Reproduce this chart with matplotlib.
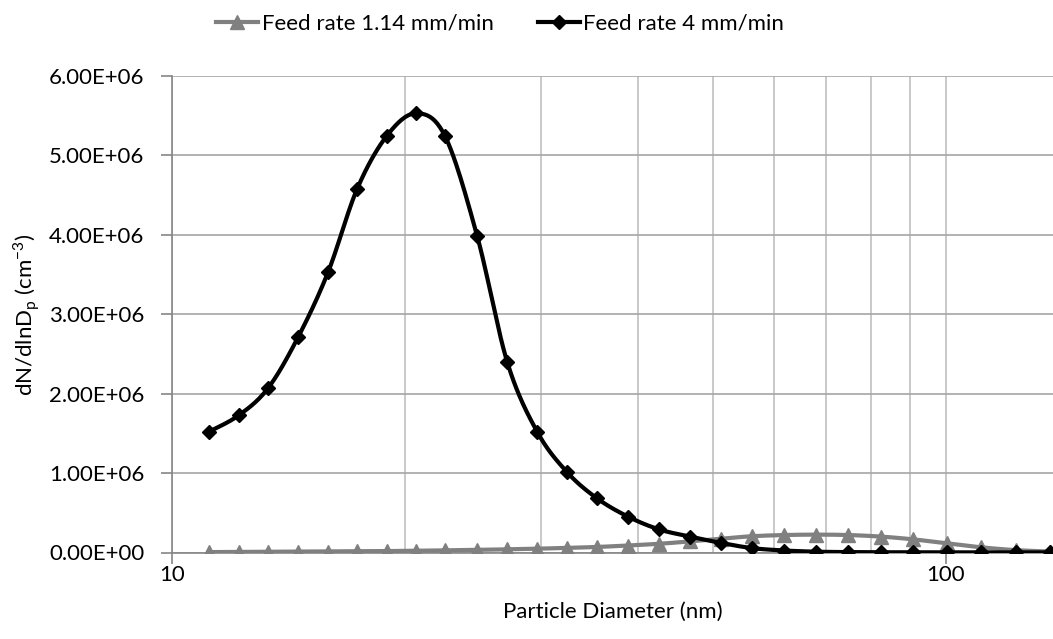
import numpy as np
import matplotlib.pyplot as plt
from matplotlib.ticker import FuncFormatter, LogLocator, NullFormatter

plt.rcParams['font.family'] = ['Lato', 'DejaVu Sans']

# SMPS channel midpoints (nm)
diameter = [11.15, 12.20, 13.30, 14.54, 15.90, 17.34, 18.95, 20.67, 22.53,
            24.79, 27.10, 29.63, 32.40, 35.43, 38.86, 42.62, 46.73, 51.26,
            56.22, 61.84, 68.03, 74.82, 82.56, 90.83, 100.5, 111.2, 123.1, 136.2]

# dN/dlnDp (cm^-3)
feed_114 = [0.005, 0.007, 0.008, 0.010, 0.012, 0.015, 0.018, 0.022, 0.027,
            0.033, 0.040, 0.048, 0.058, 0.070, 0.088, 0.110, 0.140, 0.175,
            0.205, 0.220, 0.225, 0.220, 0.200, 0.165, 0.115, 0.065, 0.030, 0.012]
feed_4 = [1.52, 1.73, 2.07, 2.71, 3.53, 4.58, 5.25, 5.53, 5.24, 3.98, 2.40,
          1.52, 1.01, 0.68, 0.45, 0.29, 0.20, 0.12, 0.055, 0.025, 0.010,
          0.005, 0.003, 0.002, 0.002, 0.001, 0.001, 0.001]
feed_114 = np.array(feed_114) * 1e6
feed_4 = np.array(feed_4) * 1e6

labels = ["Feed rate 1.14 mm/min", "Feed rate 4 mm/min"]

FS = 16


def smooth(x, y, n=24):
    """Bezier smoothing through the points (in log-x space), like a spreadsheet 'smoothed line'."""
    u = np.log10(np.asarray(x, float))
    v = np.asarray(y, float)
    P = np.column_stack([u, v])
    out = [P[0]]
    t = np.linspace(0, 1, n)[1:, None]
    for i in range(len(P) - 1):
        p0 = P[max(i - 1, 0)]
        p1, p2 = P[i], P[i + 1]
        p3 = P[min(i + 2, len(P) - 1)]
        c1 = p1 + (p2 - p0) / 6
        c2 = p2 - (p3 - p1) / 6
        seg = ((1 - t) ** 3) * p1 + 3 * ((1 - t) ** 2) * t * c1 \
            + 3 * (1 - t) * t ** 2 * c2 + t ** 3 * p2
        out.extend(seg)
    out = np.array(out)
    return 10 ** out[:, 0], out[:, 1]


fig = plt.figure(figsize=(10.53, 6.39), dpi=100)
ax = fig.add_axes([172.3 / 1053, 86.5 / 639, 1 - 172.3 / 1053, 476.5 / 639])

gray = "#808080"
sx, sy = smooth(diameter, feed_114)
ax.plot(sx, sy, color=gray, lw=3, zorder=3)
ax.plot(diameter, feed_114, ls="none", marker="^", ms=10.5, color=gray,
        zorder=3)
sx, sy = smooth(diameter, feed_4)
ax.plot(sx, sy, color="black", lw=3, zorder=4)
ax.plot(diameter, feed_4, ls="none", marker="D", ms=7.2, color="black",
        zorder=4)

# legend proxies (line with marker in the middle)
h1, = ax.plot([], [], color=gray, lw=3, marker="^", ms=10.5)
h2, = ax.plot([], [], color="black", lw=3, marker="D", ms=7.2)
fig.legend([h1, h2], labels, loc="upper center", bbox_to_anchor=(0.475, 1.0),
           ncol=2, frameon=False, fontsize=FS, handlelength=1.9,
           handletextpad=0.15, columnspacing=2.0, numpoints=1,
           borderaxespad=0.2)

ax.set_xscale("log")
ax.set_xlim(10, 137.6)
ax.set_ylim(0, 6e6)
ax.set_yticks(np.arange(0, 6.01e6, 1e6))
ax.yaxis.set_major_formatter(FuncFormatter(lambda v, p: f"{v:.2E}"))
ax.xaxis.set_major_locator(LogLocator(base=10))
ax.xaxis.set_major_formatter(FuncFormatter(lambda v, p: f"{v:g}"))
ax.xaxis.set_minor_locator(LogLocator(base=10, subs=np.arange(2, 10)))
ax.xaxis.set_minor_formatter(NullFormatter())

ax.grid(True, axis="x", which="both", color="#C0C0C0", lw=1.2, zorder=0)
ax.grid(True, axis="y", which="major", color="#A6A6A6", lw=1.2, zorder=0)
ax.set_axisbelow(True)

for s in ("top", "right"):
    ax.spines[s].set_visible(False)
for s in ("left", "bottom"):
    ax.spines[s].set_color("#868686")
    ax.spines[s].set_linewidth(1.2)

ax.tick_params(axis="both", which="major", direction="out", length=8,
               width=1.2, color="#868686", labelsize=FS, labelcolor="black")
ax.tick_params(axis="x", which="minor", length=0)
ax.tick_params(axis="y", pad=12)
ax.tick_params(axis="x", pad=1)

ax.set_xlabel("Particle Diameter (nm)", fontsize=FS, labelpad=12)
ax.set_ylabel(r"dN/dlnD$_\mathregular{p}$ (cm$^\mathregular{-3}$)",
              fontsize=FS, labelpad=5)

fig.savefig("out.png", dpi=100)
